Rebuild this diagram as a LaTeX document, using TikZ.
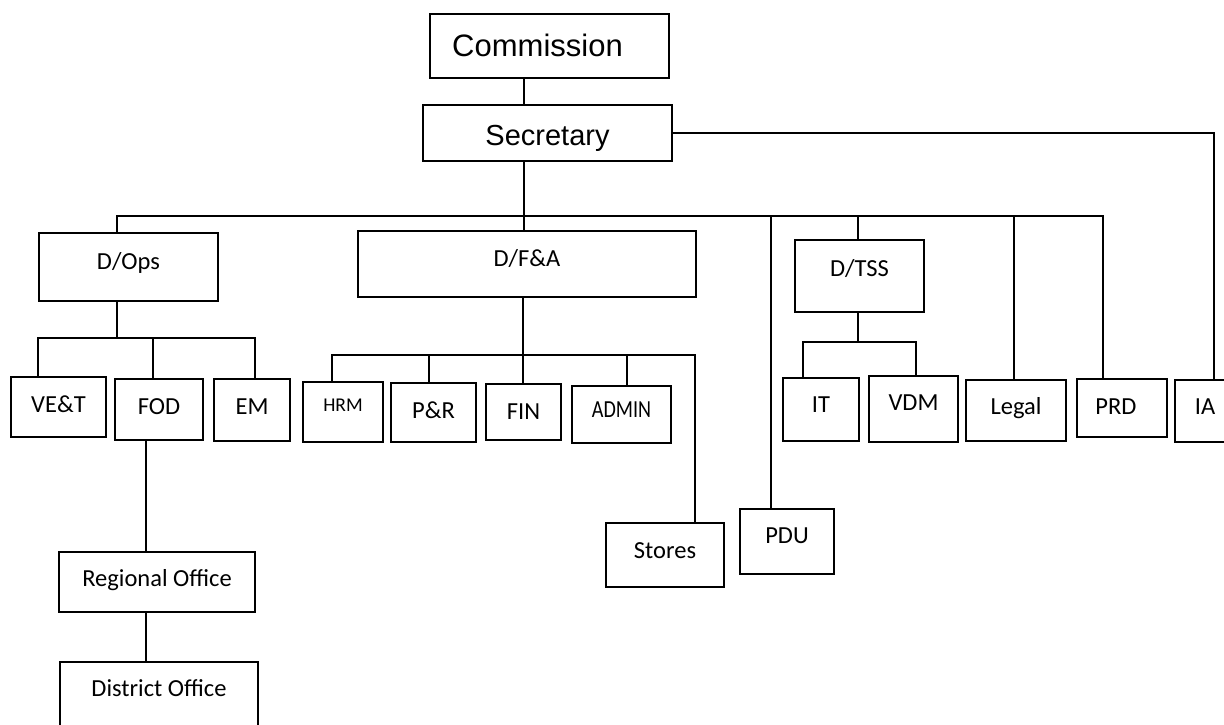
\documentclass[tikz,border=0pt]{standalone}
\usepackage{fontspec}
\setmainfont{Carlito}
\newfontfamily\arialf{Liberation Sans}
\begin{document}
\begin{tikzpicture}[x=1pt,y=1pt,line width=2.2pt,
  box/.style={draw,rectangle,inner sep=0pt,outer sep=0pt,line width=2.2pt},
  lbl/.style={font=\fontsize{24.5}{24.5}\selectfont,text height=15.8pt,text depth=0pt,inner sep=0pt},
  small/.style={font=\fontsize{19.5}{19.5}\selectfont,text height=12.6pt,text depth=0pt,inner sep=0pt},
  big/.style={font=\arialf\fontsize{31}{31}\selectfont,text height=22.2pt,text depth=0pt,inner sep=0pt},
  mid/.style={font=\arialf\fontsize{29}{29}\selectfont,text height=20.8pt,text depth=0pt,inner sep=0pt},
  wire/.style={draw,line width=2.2pt}]
\useasboundingbox (0,0) rectangle (1224,724);
\clip (0,0) rectangle (1224,724);
% boxes
\node[box,minimum width=239,minimum height=64,label={[big,xshift=-12,yshift=0.5]center:Commission}] (comm) at (549.5,678) {};
\node[box,minimum width=249,minimum height=56,label={[mid,yshift=-2]center:Secretary}] (sec) at (547.5,591) {};
\node[box,minimum width=179,minimum height=68,label={[lbl,yshift=5]center:D/Ops}] (dops) at (128.5,457) {};
\node[box,minimum width=338,minimum height=66,label={[lbl,yshift=5]center:D/F\&A}] (dfa) at (527,460) {};
\node[box,minimum width=129,minimum height=72,label={[lbl,yshift=7]center:D/TSS}] (dtss) at (859.5,448) {};
\node[box,minimum width=95,minimum height=60,label={[lbl,yshift=2]center:VE\&T}] (vet) at (58.5,317) {};
\node[box,minimum width=88,minimum height=61,label={[lbl,yshift=2.5]center:FOD}] (fod) at (159,314.5) {};
\node[box,minimum width=76,minimum height=62,label={[lbl,yshift=3]center:EM}] (em) at (252,314) {};
\node[box,minimum width=80,minimum height=60,label={[small,yshift=7]center:HRM}] (hrm) at (343,312) {};
\node[box,minimum width=85,minimum height=59,label={[lbl,yshift=1.5]center:P\&R}] (pr) at (433.5,311.5) {};
\node[box,minimum width=75,minimum height=56,label={[lbl,yshift=0.5]center:FIN}] (fin) at (523.5,312) {};
\node[box,minimum width=99,minimum height=57,label={[lbl,yshift=5]center:\scalebox{0.82}[1]{ADMIN}}] (admin) at (621.5,309.5) {};
\node[box,minimum width=76,minimum height=63,label={[lbl,yshift=5]center:IT}] (it) at (821,314.5) {};
\node[box,minimum width=89,minimum height=66,label={[lbl,yshift=6]center:VDM}] (vdm) at (913.5,315) {};
\node[box,minimum width=100,minimum height=61,label={[lbl,yshift=3.5]center:Legal}] (legal) at (1016,313.5) {};
\node[box,minimum width=90,minimum height=58,label={[lbl,xshift=-6,yshift=1]center:PRD}] (prd) at (1122,316) {};
\node[box,minimum width=60,minimum height=62,label={[lbl,yshift=4]center:IA}] (ia) at (1205,313) {};
\node[box,minimum width=118,minimum height=64,label={[lbl,yshift=4.5]center:Stores}] (stores) at (665,169) {};
\node[box,minimum width=94,minimum height=65,label={[lbl,yshift=5.5]center:PDU}] (pdu) at (787,182.5) {};
\node[box,minimum width=196,minimum height=60,label={[lbl,yshift=3]center:Regional Office}] (reg) at (157,142) {};
\node[box,minimum width=198,minimum height=72,label={[lbl,yshift=9]center:District Office}] (dist) at (159,26) {};
% junction coordinates
\coordinate (cs) at (524,600);
\coordinate (cbL) at (117,508);
\coordinate (cbR) at (1103,508);
\coordinate (cb1) at (524,508);
\coordinate (cpdu) at (771,508);
\coordinate (cdt) at (858,508);
\coordinate (clg) at (1014,508);
\coordinate (cia) at (1214,591);
\coordinate (cdo) at (117,386);
\coordinate (cvet) at (38,386);
\coordinate (cfod) at (153,386);
\coordinate (cem) at (255,386);
\coordinate (chrm) at (332,369);
\coordinate (cpr) at (429,369);
\coordinate (cfin) at (523,369);
\coordinate (cadm) at (627,369);
\coordinate (cst) at (695,369);
\coordinate (cit) at (803,382);
\coordinate (cts) at (858,382);
\coordinate (cvdm) at (916,382);
\coordinate (cfr) at (146,0);
% connectors
\draw[wire] (comm.south -| cs) -- (sec.north -| cs);
\draw[wire] (sec.south -| cb1) -- (dfa.north -| cb1);
\draw[wire] (dops.north -| cbL) -- (cbL) -- (cbR) -- (prd.north -| cbR);
\draw[wire] (sec.east) -- (cia) -- (ia.north -| cia);
\draw[wire] (cpdu) -- (pdu.north -| cpdu);
\draw[wire] (cdt) -- (dtss.north -| cdt);
\draw[wire] (clg) -- (legal.north -| clg);
\draw[wire] (dops.south -| cdo) -- (cdo);
\draw[wire] (vet.north -| cvet) -- (cvet) -- (cem) -- (em.north -| cem);
\draw[wire] (cfod) -- (fod.north -| cfod);
\draw[wire] (dfa.south -| cfin) -- (fin.north -| cfin);
\draw[wire] (hrm.north -| chrm) -- (chrm) -- (cst) -- (stores.north -| cst);
\draw[wire] (cpr) -- (pr.north -| cpr);
\draw[wire] (cadm) -- (admin.north -| cadm);
\draw[wire] (dtss.south -| cts) -- (cts);
\draw[wire] (it.north -| cit) -- (cit) -- (cvdm) -- (vdm.north -| cvdm);
\draw[wire] (fod.south -| cfr) -- (reg.north -| cfr);
\draw[wire] (reg.south -| cfr) -- (dist.north -| cfr);
\end{tikzpicture}
\end{document}
